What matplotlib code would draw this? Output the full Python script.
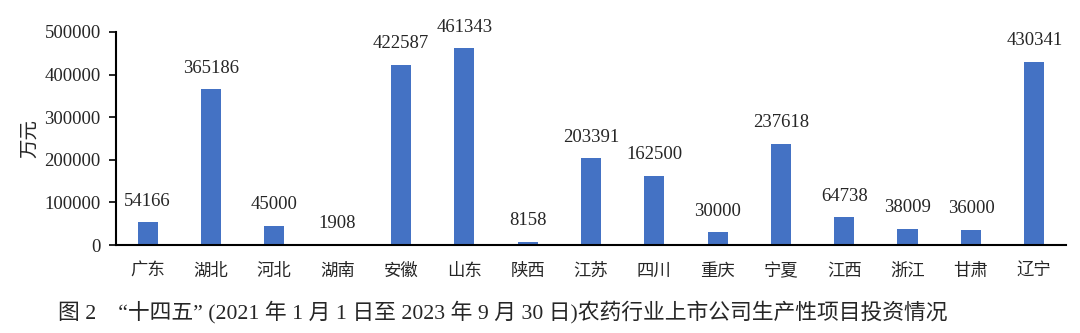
import matplotlib
matplotlib.use("Agg")
import matplotlib.pyplot as plt
import numpy as np

provinces = ["广东", "湖北", "河北", "湖南", "安徽", "山东", "陕西", "江苏",
             "四川", "重庆", "宁夏", "江西", "浙江", "甘肃", "辽宁"]
investment = [54166, 365186, 45000, 1908, 422587, 461343, 8158, 203391,
              162500, 30000, 237618, 64738, 38009, 36000, 430341]
y_ticks = [0, 100000, 200000, 300000, 400000, 500000]
y_label = "万元"
caption = "图 2    “十四五” (2021 年 1 月 1 日至 2023 年 9 月 30 日)农药行业上市公司生产性项目投资情况"

SERIF = ["Liberation Serif", "Noto Sans CJK SC"]
CJK = ["Noto Sans CJK SC", "DejaVu Sans"]
BAR_COLOR = "#4472C4"
TEXT_COLOR = "#262626"

fig = plt.figure(figsize=(10.8, 3.33), dpi=100)
ax = fig.add_axes([0.1074, 0.264, 0.8796, 0.640])

x = np.arange(len(provinces))
bars = ax.bar(x, investment, width=0.32, color=BAR_COLOR, zorder=2)

for xi, v in zip(x, investment):
    ax.annotate(f"{v}", (xi, v), xytext=(0, 9), textcoords="offset points",
                ha="center", va="bottom", fontsize=13.5, family=SERIF,
                color=TEXT_COLOR)

ax.set_xlim(-0.5, len(provinces) - 0.5)
ax.set_ylim(0, 500000)
ax.set_yticks(y_ticks)
ax.set_yticklabels([str(t) for t in y_ticks], family=SERIF, fontsize=13.5,
                   color=TEXT_COLOR)
ax.set_xticks(x)
ax.set_xticklabels(provinces, family=CJK, fontsize=12.5, color=TEXT_COLOR)
ax.tick_params(axis="x", length=0, pad=12)
ax.tick_params(axis="y", direction="out", length=5, width=1.2, pad=6,
               color="black")

for side in ("top", "right"):
    ax.spines[side].set_visible(False)
ax.spines["left"].set_linewidth(1.5)
ax.spines["bottom"].set_linewidth(1.5)

ax.set_ylabel(y_label, family=CJK, fontsize=14, color=TEXT_COLOR)
ax.yaxis.set_label_coords(-0.08, 0.5)

fig.text(0.054, 0.062, caption, family=SERIF, fontsize=15.7, color=TEXT_COLOR,
         ha="left", va="center")

fig.savefig("out.png", dpi=100)
